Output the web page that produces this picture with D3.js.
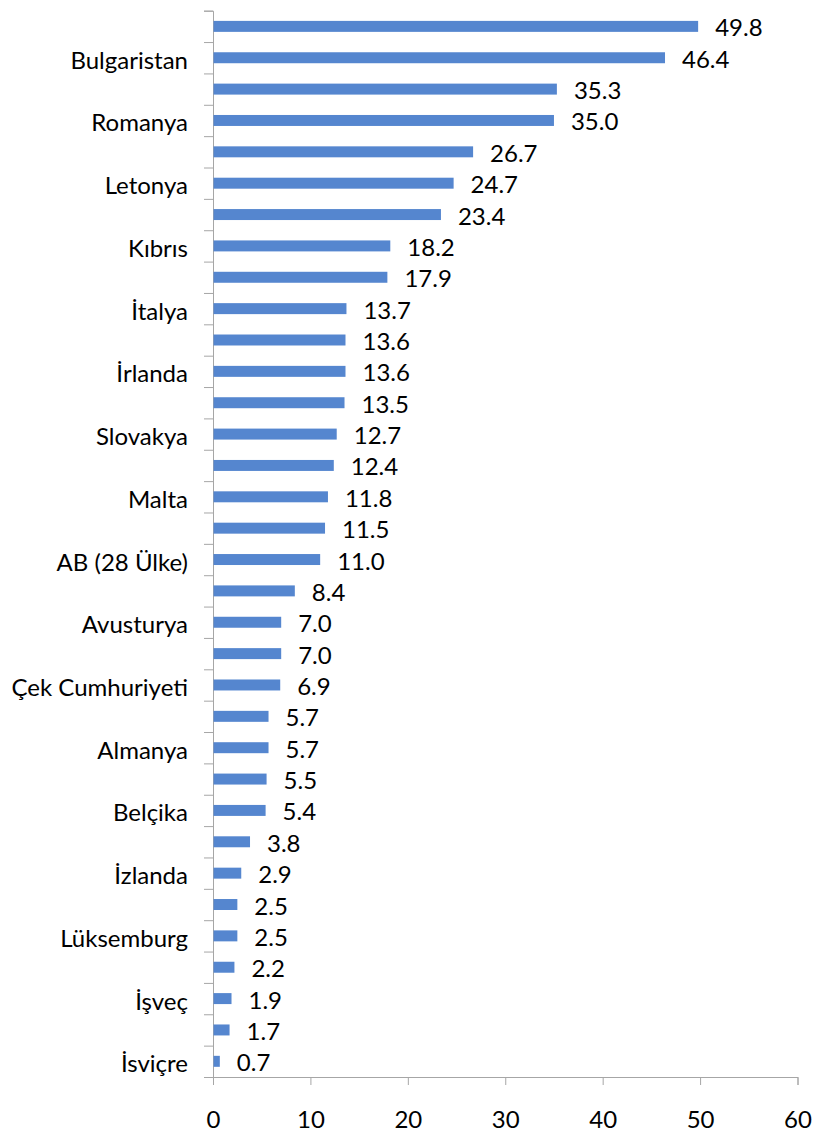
<!DOCTYPE html>
<html lang="tr">
<head>
<meta charset="UTF-8" />
<title>Bar Chart</title>
<script src="https://cdn.jsdelivr.net/npm/d3@7/dist/d3.min.js"></script>
<style>
  body { margin: 0; background: #fff; }
  text { font-family: Lato, "Open Sans", sans-serif; fill: #000; }
  .axis path, .axis line { stroke: #a6a6a6; }
</style>
</head>
<body>
<div id="chart"></div>
<script>
// values top to bottom; only every second row has a visible name
var labels = ["", "Bulgaristan", "", "Romanya", "", "Letonya", "", "Kıbrıs", "", "İtalya",
              "", "İrlanda", "", "Slovakya", "", "Malta", "", "AB (28 Ülke)", "", "Avusturya",
              "", "Çek Cumhuriyeti", "", "Almanya", "", "Belçika", "", "İzlanda", "", "Lüksemburg",
              "", "İşveç", "", "İsviçre"];
var values = [49.8, 46.4, 35.3, 35.0, 26.7, 24.7, 23.4, 18.2, 17.9, 13.7,
              13.6, 13.6, 13.5, 12.7, 12.4, 11.8, 11.5, 11.0, 8.4, 7.0,
              7.0, 6.9, 5.7, 5.7, 5.5, 5.4, 3.8, 2.9, 2.5, 2.5,
              2.2, 1.9, 1.7, 0.7];
var xTicks = [0, 10, 20, 30, 40, 50, 60];

var w = 814, h = 1133;
var pLeft = 213, pRight = 797.5, pTop = 10.7, pBottom = 1077;
var fontSize = "24px";

var svg = d3.select("#chart").append("svg")
    .attr("width", w)
    .attr("height", h);

var xScale = d3.scaleLinear().domain([0, 60]).range([pLeft, pRight]);

var yScale = d3.scaleBand()
    .domain(d3.range(values.length))
    .range([pTop, pBottom])
    .paddingInner(0.65)
    .paddingOuter(0.325);

// slot borders for the category ticks
var yEdge = d3.scaleLinear().domain([0, values.length]).range([pTop, pBottom]);

// x axis
var xAxis = d3.axisBottom(xScale).tickValues(xTicks).tickSize(8).tickPadding(26);
var gx = svg.append("g")
    .attr("class", "axis")
    .attr("transform", "translate(0," + pBottom + ")")
    .call(xAxis);
gx.selectAll("text").style("font-size", fontSize);

// y axis
var yAxis = d3.axisLeft(yEdge).tickValues(d3.range(values.length + 1)).tickFormat("").tickSize(9);
svg.append("g")
    .attr("class", "axis")
    .attr("transform", "translate(" + pLeft + ",0)")
    .call(yAxis);

// bars
svg.selectAll("rect.bar")
    .data(values)
    .enter().append("rect")
    .attr("class", "bar")
    .attr("x", xScale(0) + 0.5)
    .attr("y", function(d, i) { return yScale(i); })
    .attr("width", function(d) { return xScale(d) - xScale(0) - 0.5; })
    .attr("height", yScale.bandwidth())
    .style("fill", "#5586cf");

// value labels
svg.selectAll("text.val")
    .data(values)
    .enter().append("text")
    .attr("class", "val")
    .attr("x", function(d) { return xScale(d) + 17; })
    .attr("y", function(d, i) { return yScale(i) + yScale.bandwidth() / 2 + 10; })
    .text(function(d) { return d.toFixed(1); })
    .style("font-size", fontSize);

// category labels
svg.selectAll("text.cat")
    .data(labels)
    .enter().append("text")
    .attr("class", "cat")
    .attr("x", 188)
    .attr("y", function(d, i) { return yScale(i) + yScale.bandwidth() / 2 + 11; })
    .attr("text-anchor", "end")
    .text(function(d) { return d; })
    .style("font-size", fontSize);
</script>
</body>
</html>
